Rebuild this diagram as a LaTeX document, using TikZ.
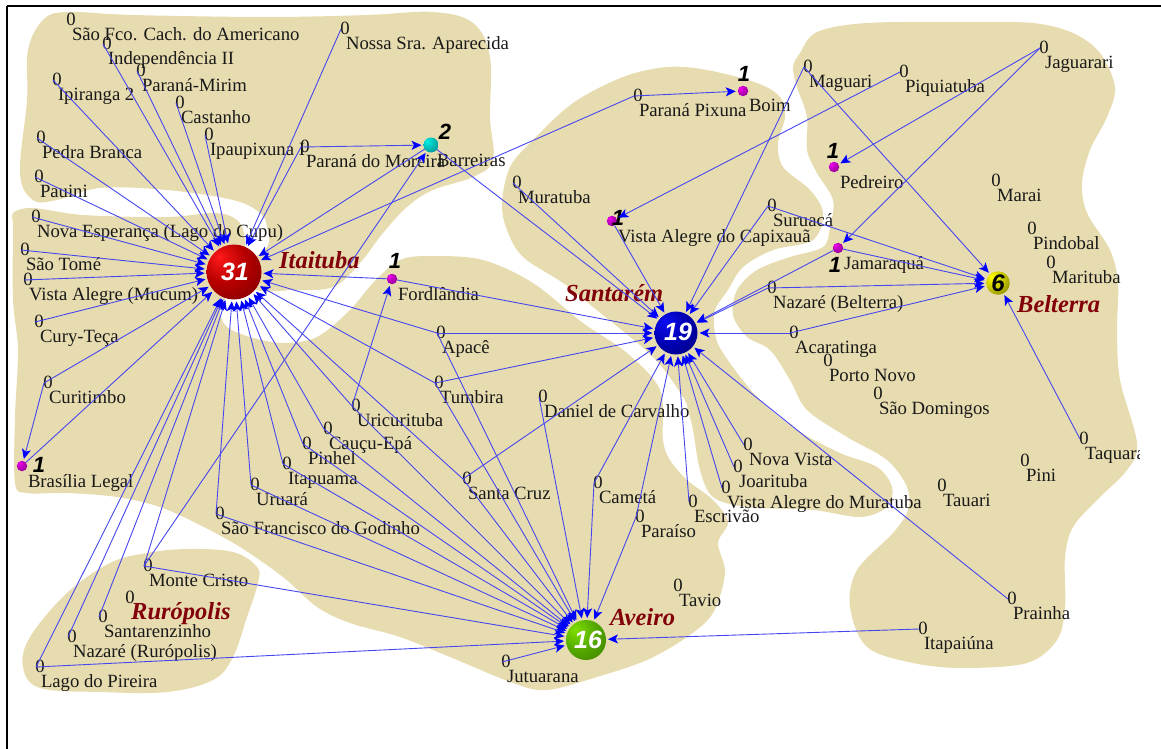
\documentclass[tikz,border=0pt]{standalone}
\usepackage{fontspec}
\setmainfont{Liberation Serif}
\newfontfamily\numf{Liberation Sans}
\usetikzlibrary{arrows.meta}
\definecolor{landc}{RGB}{231,220,176}
\definecolor{linec}{RGB}{70,70,240}
\definecolor{townc}{RGB}{130,0,10}
\pgfdeclareradialshading{ballred}{\pgfpoint{-14bp}{14bp}}{rgb(0bp)=(1,0.1,0.1);rgb(20bp)=(0.72,0,0);rgb(46bp)=(0.45,0,0);rgb(70bp)=(0.38,0,0)}
\pgfdeclareradialshading{ballblue}{\pgfpoint{-14bp}{14bp}}{rgb(0bp)=(0.05,0.05,0.95);rgb(22bp)=(0,0,0.7);rgb(48bp)=(0,0,0.45);rgb(70bp)=(0,0,0.38)}
\pgfdeclareradialshading{ballgreen}{\pgfpoint{-14bp}{14bp}}{rgb(0bp)=(0.5,0.88,0);rgb(22bp)=(0.33,0.66,0);rgb(48bp)=(0.22,0.46,0);rgb(70bp)=(0.18,0.38,0)}
\pgfdeclareradialshading{ballyellow}{\pgfpoint{-14bp}{14bp}}{rgb(0bp)=(1,1,0);rgb(22bp)=(0.78,0.78,0);rgb(46bp)=(0.4,0.4,0);rgb(70bp)=(0.3,0.3,0)}
\pgfdeclareradialshading{ballmag}{\pgfpoint{-14bp}{14bp}}{rgb(0bp)=(0.95,0,0.95);rgb(22bp)=(0.7,0,0.7);rgb(48bp)=(0.48,0,0.48);rgb(70bp)=(0.42,0,0.42)}
\pgfdeclareradialshading{ballcyan}{\pgfpoint{-14bp}{14bp}}{rgb(0bp)=(0,0.95,0.9);rgb(22bp)=(0,0.72,0.7);rgb(48bp)=(0,0.47,0.5);rgb(70bp)=(0,0.38,0.42)}
\tikzset{
  land/.style={fill=landc,draw=none},
  vtxtext/.style={inner sep=0pt,outer sep=0pt,font=\fontsize{18.7}{20}\selectfont,text=black!90},
  hubball/.style={circle,inner sep=0pt,outer sep=0pt,minimum size=#1,draw=none},
  smallball/.style={circle,inner sep=0pt,outer sep=0pt,minimum size=10.5pt,shading=ballmag,draw=none},
  hubnum/.style={inner sep=0pt,text=white,font=\numf\bfseries\itshape\fontsize{25}{27}\selectfont},
  smallnum/.style={inner sep=0pt,text=black,font=\numf\bfseries\itshape\fontsize{22}{24}\selectfont},
  town/.style={inner sep=0pt,anchor=base west,text=townc,font=\bfseries\itshape\fontsize{24.5}{26}\selectfont},
  conn/.style={draw=linec,line width=0.9pt,-{Stealth[length=10pt,width=9pt,inset=2.5pt,color=blue]},shorten >=2pt}
}
% #1 id, #2 x, #3 y of the printed 0, #4 label
\newcommand\Vtx[4]{%
  \coordinate (#1) at ({#2-4},{#3+1});
  \node[vtxtext] (#1z) at (#2,#3) {0};
  \node[vtxtext,anchor=base west] (#1l) at ({#2+1},{#3+21.5}) {#4};
}
% #1 id, #2 x, #3 y of the ball, #4 label, #5 x, #6 y of the number
\newcommand\Ball[6]{%
  \node[smallball] (#1) at (#2,#3) {};
  \node[vtxtext,anchor=base west] (#1l) at ({#2+6},{#3+21}) {#4};
  \node[smallnum] (#1n) at (#5,#6) {1};
}
\begin{document}
\begin{tikzpicture}[x=1pt,y=-1pt]
\path[use as bounding box] (0,0) rectangle (1161,749);
% land
\fill[land] plot[smooth cycle,tension=0.6] coordinates {(20,173)(27,100)(28,50)(43,20)(67,12)(133,15)(267,17)(367,15)(433,12)(473,23)(490,57)(490,117)(493,160)(473,177)(433,190)(407,207)(383,233)(360,263)(333,287)(293,290)(255,290)(240,270)(267,247)(267,227)(260,213)(233,200)(167,190)(100,188)(57,200)(33,200)};
\fill[land] plot[smooth cycle,tension=0.55] coordinates {(13,227)(13,213)(33,208)(83,215)(167,217)(217,213)(240,223)(245,247)(240,272)(225,300)(220,312)(227,327)(250,337)(283,343)(317,337)(350,310)(373,283)(400,260)(433,256)(483,260)(533,283)(583,323)(627,353)(660,390)(663,440)(670,460)(687,480)(713,500)(728,522)(718,543)(725,573)(713,613)(687,637)(647,660)(597,677)(547,690)(513,683)(450,657)(400,637)(350,623)(317,607)(283,577)(240,547)(200,525)(160,507)(117,497)(67,493)(27,493)(15,483)(15,417)(18,350)(13,300)};
\fill[land] plot[smooth cycle,tension=0.6] coordinates {(147,553)(187,549)(233,552)(257,567)(258,583)(247,617)(233,657)(213,680)(167,692)(100,692)(40,688)(23,667)(30,637)(67,593)(110,563)};
\fill[land] plot[smooth cycle,tension=0.55] coordinates {(502,203)(510,167)(533,140)(573,103)(623,77)(667,67)(707,70)(757,83)(780,97)(785,117)(778,143)(783,167)(810,190)(823,213)(813,240)(773,250)(743,267)(728,290)(715,310)(715,333)(723,353)(757,397)(797,430)(840,453)(877,467)(892,487)(887,507)(860,517)(813,510)(747,507)(713,497)(700,470)(693,430)(688,410)(683,397)(653,357)(593,307)(563,283)(523,257)(507,230)};
\fill[land] plot[smooth cycle,tension=0.55] coordinates {(800,53)(817,32)(867,23)(967,22)(1033,23)(1073,33)(1100,53)(1115,87)(1107,117)(1090,150)(1082,183)(1087,213)(1110,250)(1118,283)(1117,330)(1120,380)(1137,443)(1127,470)(1097,500)(1073,527)(1065,557)(1065,607)(1057,640)(1027,663)(963,668)(913,663)(867,647)(850,607)(857,570)(893,533)(908,510)(907,487)(887,460)(847,437)(807,410)(790,380)(770,350)(747,337)(733,315)(737,290)(757,270)(790,257)(823,247)(830,227)(833,200)(817,173)(807,150)(807,117)(797,87)(793,67)};
% town names
\node[town] (nita) at (279,268) {Itaituba};
\node[town] (nstm) at (565,301) {Santarém};
\node[town] (nave) at (610,625) {Aveiro};
\node[town] (nbel) at (1017,312) {Belterra};
\node[town] (nrur) at (131,619) {Rurópolis};
% hubs
\node[hubball=55pt,shading=ballred] (ita) at (234,272) {};
\node[hubball=43pt,shading=ballblue] (stm) at (676,333) {};
\node[hubball=40pt,shading=ballgreen] (ave) at (586,640) {};
\node[hubball=23.5pt,shading=ballyellow] (bel) at (998,283) {};
\node[hubnum] (itan) at (235,272) {31};
\node[hubnum] (stmn) at (678,332) {19};
\node[hubnum] (aven) at (588,640) {16};
\node[hubnum,text=black,font=\numf\bfseries\itshape\fontsize{24}{26}\selectfont] (beln) at (998,283) {6};
% balls
\node[hubball=15pt,shading=ballcyan] (barr) at (431,145) {};
\node[vtxtext,anchor=base west] (barrl) at (437,166) {Barreiras};
\node[smallnum] (barrn) at (445,132) {2};
\Ball{boim}{743}{91}{Boim}{744}{74}
\Ball{capix}{612}{221}{Vista Alegre do Capixauã}{618}{218}
\Ball{ped}{834}{167}{Pedreiro}{833}{151}
\Ball{jama}{838}{248}{Jamaraquá}{835}{265}
\Ball{ford}{392}{279}{Fordlândia}{395}{261}
\Ball{bras}{22}{466}{Brasília Legal}{39}{465}
% vertices
\Vtx{saofco}{71}{19}{São Fco. Cach. do Americano}
\Vtx{indep}{107}{43}{Independência II}
\Vtx{parmir}{141}{70}{Paraná-Mirim}
\Vtx{ipir}{57}{79}{Ipiranga 2}
\Vtx{cast}{180}{102}{Castanho}
\Vtx{ipau}{209}{134}{Ipaupixuna I}
\Vtx{nossa}{345}{28}{Nossa Sra. Aparecida}
\Vtx{pedra}{41}{137}{Pedra Branca}
\Vtx{pauini}{39}{176}{Pauini}
\Vtx{novaesp}{36}{216}{Nova Esperança (Lago do Cupu)}
\Vtx{stome}{25}{249}{São Tomé}
\Vtx{vamuc}{28}{279}{Vista Alegre (Mucum)}
\Vtx{cury}{39}{321}{Cury-Teça}
\Vtx{curit}{48}{382}{Curitimbo}
\Vtx{parmor}{305}{146}{Paraná do Moreira}
\Vtx{uric}{356}{405}{Uricurituba}
\Vtx{caucu}{328}{428}{Cauçu-Epá}
\Vtx{pinhel}{307}{443}{Pinhel}
\Vtx{itapua}{287}{463}{Itapuama}
\Vtx{uruara}{255}{484}{Uruará}
\Vtx{sfranc}{220}{513}{São Francisco do Godinho}
\Vtx{monte}{148}{565}{Monte Cristo}
\node[vtxtext] (rurz) at (130,597) {0};
\Vtx{santz}{103}{616}{Santarenzinho}
\Vtx{nazr}{72}{636}{Nazaré (Rurópolis)}
\Vtx{lago}{40}{666}{Lago do Pireira}
\Vtx{apace}{441}{332}{Apacê}
\Vtx{tumbira}{439}{382}{Tumbira}
\Vtx{daniel}{543}{396}{Daniel de Carvalho}
\Vtx{scruz}{467}{478}{Santa Cruz}
\Vtx{cameta}{598}{482}{Cametá}
\Vtx{paraiso}{640}{516}{Paraíso}
\Vtx{escr}{693}{501}{Escrivão}
\Vtx{tavio}{678}{585}{Tavio}
\Vtx{jutu}{506}{661}{Jutuarana}
\Vtx{vamur}{726}{487}{Vista Alegre do Muratuba}
\Vtx{joar}{738}{466}{Joarituba}
\Vtx{nova}{748}{444}{Nova Vista}
\Vtx{magu}{808}{66}{Maguari}
\Vtx{piqui}{904}{71}{Piquiatuba}
\Vtx{jagu}{1044}{47}{Jaguarari}
\Vtx{marai}{996}{180}{Marai}
\Vtx{pindo}{1032}{228}{Pindobal}
\Vtx{mari}{1051}{262}{Marituba}
\Vtx{suru}{772}{205}{Suruacá}
\Vtx{nazb}{772}{287}{Nazaré (Belterra)}
\Vtx{acar}{794}{332}{Acaratinga}
\Vtx{porto}{828}{360}{Porto Novo}
\Vtx{sdom}{878}{393}{São Domingos}
\Vtx{pini}{1025}{460}{Pini}
\Vtx{tauari}{942}{485}{Tauari}
\Vtx{taquara}{1084}{438}{Taquara}
\Vtx{prainha}{1012}{598}{Prainha}
\Vtx{itapai}{923}{628}{Itapaiúna}
\Vtx{parpix}{638}{95}{Paraná Pixuna}
\Vtx{murat}{517}{182}{Muratuba}
% connectors
\foreach \a in {indep,parmir,ipir,cast,ipau,nossa,pedra,pauini,novaesp,stome,vamuc,cury,curit,bras,parmor,barr,parpix,ford,apace,tumbira,uric,scruz,caucu,pinhel,itapua,uruara,sfranc,monte,lago,nazr,santz}
  \draw[conn] (\a) -- (ita);
\foreach \a in {barr,murat,capix,magu,suru,jama,nazb,acar,ford,apace,tumbira,scruz,cameta,paraiso,escr,vamur,joar,nova,prainha}
  \draw[conn] (\a) -- (stm);
\foreach \a in {apace,tumbira,uric,caucu,pinhel,itapua,uruara,sfranc,monte,lago,jutu,itapai,cameta,paraiso,daniel,scruz}
  \draw[conn] (\a) -- (ave);
\foreach \a in {magu,suru,jama,nazb,acar,taquara}
  \draw[conn] (\a) -- (bel);
\foreach \a/\b in {parmor/barr,monte/barr,parpix/boim,piqui/capix,jagu/ped,jagu/jama,uric/ford,curit/bras}
  \draw[conn] (\a) -- (\b);
% page edge
\fill[white] (1140,0) rectangle (1161,749);
\draw[black,line width=2pt] (7,749) -- (7,6);
\draw[black,line width=1.2pt] (7,6) -- (1140,6);
\draw[black,line width=2pt] (1140,6) -- (1161,6);
\end{tikzpicture}
\end{document}
